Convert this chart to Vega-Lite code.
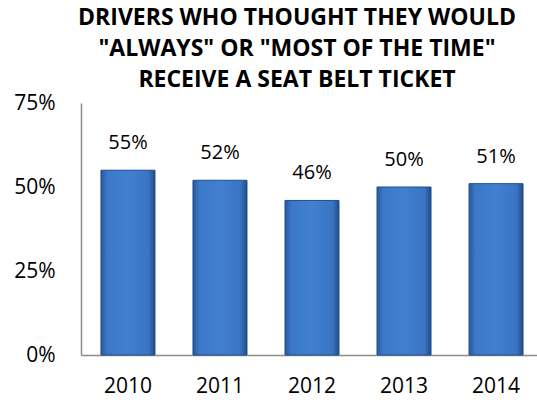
{
  "$schema": "https://vega.github.io/schema/vega-lite/v6.json",
  "width": 462,
  "height": 252,
  "autosize": {"type": "none"},
  "padding": {"left": 81, "top": 103, "right": 0, "bottom": 47},
  "background": "white",
  "title": {
    "text": ["DRIVERS WHO THOUGHT THEY WOULD", "\"ALWAYS\" OR \"MOST OF THE TIME\"", "RECEIVE A SEAT BELT TICKET"],
    "font": "Open Sans",
    "fontSize": 23,
    "fontWeight": "bold",
    "color": "#000000",
    "anchor": "middle",
    "frame": "group",
    "dx": -15,
    "lineHeight": 31,
    "offset": 0
  },
  "data": {
    "values": [
      {"year": "2010", "value": 0.55},
      {"year": "2011", "value": 0.52},
      {"year": "2012", "value": 0.46},
      {"year": "2013", "value": 0.50},
      {"year": "2014", "value": 0.51}
    ]
  },
  "config": {"view": {"stroke": null}},
  "encoding": {
    "x": {
      "field": "year",
      "type": "ordinal",
      "scale": {"paddingInner": 0.413, "paddingOuter": 0.217},
      "axis": {
        "title": null,
        "labelAngle": 0,
        "labelFont": "Open Sans",
        "labelFontSize": 21,
        "labelColor": "#000000",
        "labelPadding": 20,
        "ticks": false,
        "domainColor": "#8c8c8c",
        "domainWidth": 1.5
      }
    },
    "y": {
      "field": "value",
      "type": "quantitative",
      "scale": {"domain": [0, 0.75]},
      "axis": {
        "title": null,
        "values": [0, 0.25, 0.5, 0.75],
        "format": ".0%",
        "grid": false,
        "ticks": false,
        "labelFont": "Open Sans",
        "labelFontSize": 21,
        "labelColor": "#000000",
        "labelPadding": 26,
        "domainColor": "#8c8c8c",
        "domainWidth": 1.5
      }
    }
  },
  "layer": [
    {
      "mark": {
        "type": "bar",
        "stroke": "#1f4e8c",
        "strokeWidth": 1,
        "color": {
          "gradient": "linear",
          "x1": 0, "y1": 0, "x2": 1, "y2": 0,
          "stops": [
            {"offset": 0, "color": "#285a9c"},
            {"offset": 0.12, "color": "#3b78c8"},
            {"offset": 0.5, "color": "#4180d0"},
            {"offset": 0.88, "color": "#3a74c2"},
            {"offset": 1, "color": "#224d88"}
          ]
        }
      }
    },
    {
      "mark": {
        "type": "text",
        "font": "Open Sans",
        "fontSize": 20,
        "color": "#000000",
        "dy": -27,
        "baseline": "middle"
      },
      "encoding": {
        "text": {"field": "value", "type": "quantitative", "format": ".0%"}
      }
    }
  ]
}
